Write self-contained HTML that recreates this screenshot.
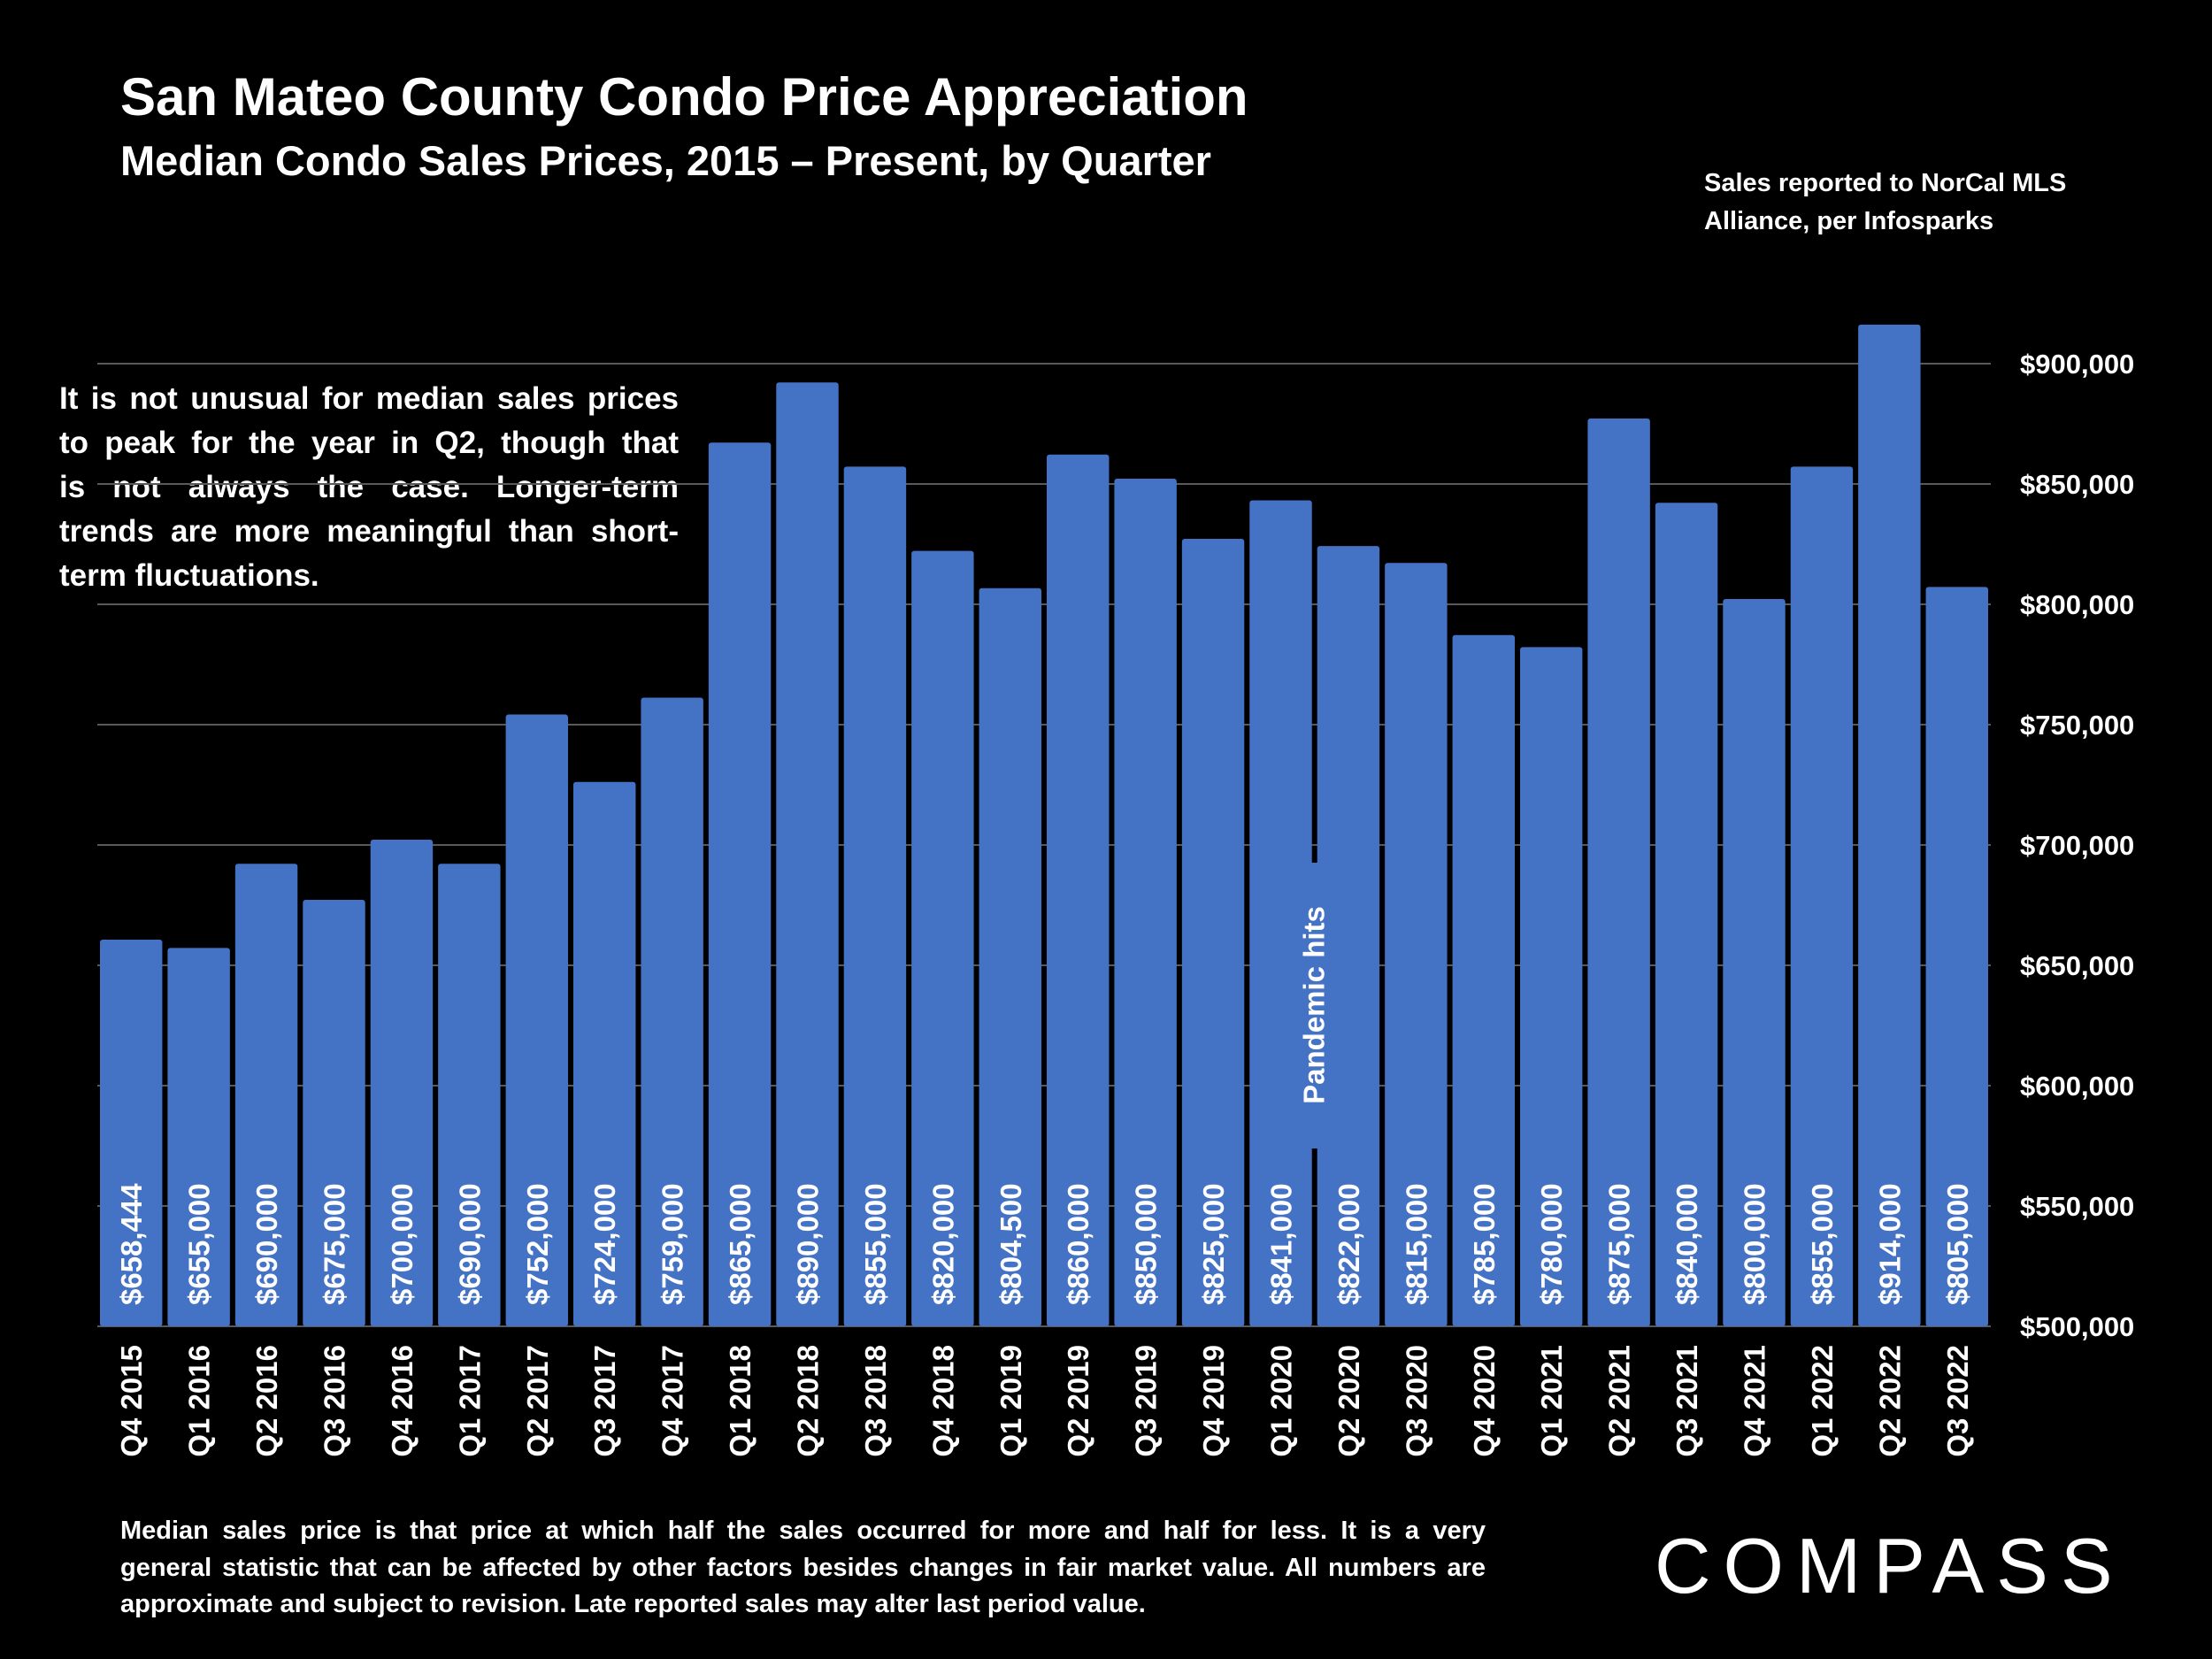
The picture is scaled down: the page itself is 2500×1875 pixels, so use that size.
<!DOCTYPE html>
<html><head><meta charset="utf-8">
<style>
html,body{margin:0;padding:0;background:#000;}
body{width:2500px;height:1875px;position:relative;overflow:hidden;font-family:"Liberation Sans",sans-serif;color:#fff;}
.abs{position:absolute;}
.j{text-align:justify;text-align-last:justify;white-space:nowrap;}
</style></head><body>
<div class="abs" style="left:136px;top:75px;font-size:60px;font-weight:bold;">San Mateo County Condo Price Appreciation</div>
<div class="abs" style="left:136px;top:154px;font-size:47px;font-weight:bold;">Median Condo Sales Prices, 2015 – Present, by Quarter</div>
<div class="abs" style="left:1926px;top:186px;font-size:29px;font-weight:bold;line-height:43px;">Sales reported to NorCal MLS<br>Alliance, per Infosparks</div>
<div class="abs" style="left:67px;top:426px;width:700px;font-size:35px;font-weight:bold;line-height:50px;">
<div class="j">It is not unusual for median sales prices</div>
<div class="j">to peak for the year in Q2, though that</div>
<div class="j">is not always the case. Longer-term</div>
<div class="j">trends are more meaningful than short-</div>
<div>term fluctuations.</div>
</div>
<svg class="abs" style="left:0;top:0" width="2500" height="1875" id="chart"></svg>
<div class="abs" style="left:136px;top:1710px;width:1543px;font-size:29px;font-weight:bold;line-height:41.5px;">
<div class="j">Median sales price is that price at which half the sales occurred for more and half for less. It is a very</div>
<div class="j">general statistic that can be affected by other factors besides changes in fair market value. All numbers are</div>
<div>approximate and subject to revision. Late reported sales may alter last period value.</div>
</div>
<div class="abs" style="left:1870px;top:1722px;font-size:88px;letter-spacing:14px;line-height:96px;">COMPASS</div>
<script>
const categories=["Q4 2015","Q1 2016","Q2 2016","Q3 2016","Q4 2016","Q1 2017","Q2 2017","Q3 2017","Q4 2017","Q1 2018","Q2 2018","Q3 2018","Q4 2018","Q1 2019","Q2 2019","Q3 2019","Q4 2019","Q1 2020","Q2 2020","Q3 2020","Q4 2020","Q1 2021","Q2 2021","Q3 2021","Q4 2021","Q1 2022","Q2 2022","Q3 2022"];
const values=[658444,655000,690000,675000,700000,690000,752000,724000,759000,865000,890000,855000,820000,804500,860000,850000,825000,841000,822000,815000,785000,780000,875000,840000,800000,855000,914000,805000];
const valueLabels=["$658,444","$655,000","$690,000","$675,000","$700,000","$690,000","$752,000","$724,000","$759,000","$865,000","$890,000","$855,000","$820,000","$804,500","$860,000","$850,000","$825,000","$841,000","$822,000","$815,000","$785,000","$780,000","$875,000","$840,000","$800,000","$855,000","$914,000","$805,000"];
const ticks=[500000,550000,600000,650000,700000,750000,800000,850000,900000];
const tickLabels=["$500,000","$550,000","$600,000","$650,000","$700,000","$750,000","$800,000","$850,000","$900,000"];
const svg=document.getElementById('chart');
const NS='http://www.w3.org/2000/svg';
const X0=110,X1=2250,Y0=1499,YMIN=500000,PXPER=136/50000,TOPPAD=6;
const band=(X1-X0)/categories.length;
function y(v){return Y0-(v-YMIN)*PXPER;}
function x(i){return X0+i*band;}
function mk(t,a){const e=document.createElementNS(NS,t);for(const k in a)e.setAttribute(k,a[k]);svg.appendChild(e);return e;}
ticks.forEach((t,i)=>{
 const g=mk('line',{x1:X0,x2:X1,y1:y(t),y2:y(t),stroke:'#595959','stroke-width':2});
 
 
 const l=mk('text',{x:2283,y:y(t)+11,fill:'#fff','font-size':31,'font-weight':'bold','font-family':'Liberation Sans, sans-serif'});
 l.textContent=tickLabels[i];
 
 
});
const bw=band-6;
categories.forEach((c,i)=>{
 const bx=x(i)+3;
 const top=y(values[i])-TOPPAD;
 const r=mk('rect',{x:bx,y:top,width:bw,height:Y0-top,fill:'#4472C4',rx:3});
 
 
 const cx=bx+bw/2+12;
 const v=mk('text',{x:0,y:0,transform:`translate(${cx},1475) rotate(-90)`,fill:'#fff','font-size':33,'font-weight':'bold','font-family':'Liberation Sans, sans-serif'});
 v.textContent=valueLabels[i];
 
 
 const xl=mk('text',{x:0,y:0,transform:`translate(${cx},1520) rotate(-90)`,fill:'#fff','font-size':33,'font-weight':'bold','font-family':'Liberation Sans, sans-serif','text-anchor':'end'});
 xl.textContent=c;
 
 
});
const pi=categories.indexOf('Q1 2020');
const px=x(pi+1);
const pb=mk('rect',{x:px-25,y:975,width:50,height:323,fill:'#4472C4'});


const pt=mk('text',{x:0,y:0,transform:`translate(${px+11},1136) rotate(-90)`,fill:'#fff','font-size':33,'font-weight':'bold','font-family':'Liberation Sans, sans-serif','text-anchor':'middle'});
pt.textContent='Pandemic hits';


</script>
</body></html>
